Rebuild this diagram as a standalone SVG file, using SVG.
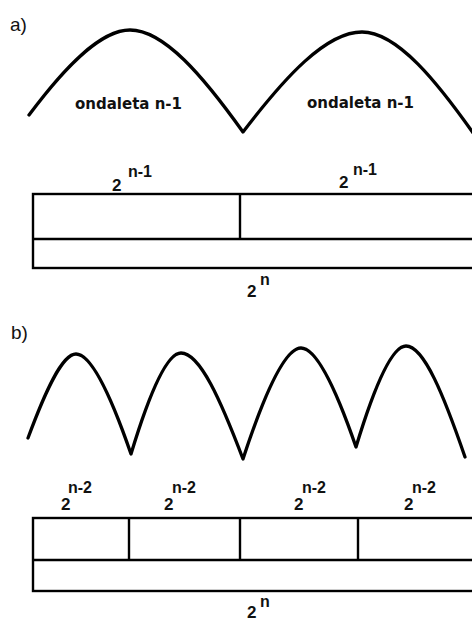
<svg xmlns="http://www.w3.org/2000/svg" width="472" height="621" viewBox="0 0 472 621">
<style>
.wave{fill:none;stroke:#000;stroke-width:3.3;stroke-linejoin:round;stroke-linecap:round}
.box{fill:#fff;stroke:#000;stroke-width:2.4}
.ln{stroke:#000;stroke-width:2.4}
.lbl{font-family:"DejaVu Sans",sans-serif;font-weight:bold;font-size:15px;fill:#111}
.num{font-family:"Liberation Sans",Arial,sans-serif;font-weight:bold;font-size:17px;fill:#111}
.sup{font-family:"Liberation Sans",Arial,sans-serif;font-weight:bold;font-size:16px;fill:#111}
.tag{font-family:"Liberation Sans",Arial,sans-serif;font-size:19px;fill:#111}
</style>
<rect width="472" height="621" fill="#fff"/>
<g id="part-a">
  <text class="tag" x="10" y="31">a)</text>
  <g id="wave-a">
    <path class="wave" d="M29 115 C64 68 100 30 130 30 C164 30 203 76 243 132 C285 77 326 32 362 32 C397 32 437 81 478 140"/>
    <text class="lbl" x="75" y="109">ondaleta n-1</text>
    <text class="lbl" x="307" y="108">ondaleta n-1</text>
  </g>
  <g id="box-a">
    <rect class="box" x="33" y="194" width="460" height="74"/>
    <line class="ln" x1="33" y1="239" x2="493" y2="239"/>
    <line class="ln" x1="240" y1="194" x2="240" y2="239"/>
    <text class="num" x="112" y="191">2</text><text class="sup" x="128" y="177">n-1</text>
    <text class="num" x="339" y="188">2</text><text class="sup" x="353" y="175">n-1</text>
    <text class="num" x="247" y="297">2</text><text class="sup" x="260" y="285">n</text>
  </g>
</g>
<g id="part-b">
  <text class="tag" x="11" y="339">b)</text>
  <g id="wave-b">
    <path class="wave" d="M28 438 C45 392 62 354 76 354 C92 354 112 399 131 454 C148 398 166 353 181 353 C200 353 221 401 243 459 C263 398 284 348 301 348 C317 348 337 392 356 447 C373 391 391 346 406 346 C424 346 444 396 465 457"/>
  </g>
  <g id="box-b">
    <rect class="box" x="33" y="518" width="460" height="73"/>
    <line class="ln" x1="33" y1="560" x2="493" y2="560"/>
    <line class="ln" x1="129" y1="518" x2="129" y2="560"/>
    <line class="ln" x1="240" y1="518" x2="240" y2="560"/>
    <line class="ln" x1="358" y1="518" x2="358" y2="560"/>
    <text class="num" x="61" y="510">2</text><text class="sup" x="68" y="493">n-2</text>
    <text class="num" x="164" y="510">2</text><text class="sup" x="172" y="493">n-2</text>
    <text class="num" x="294" y="510">2</text><text class="sup" x="302" y="493">n-2</text>
    <text class="num" x="404" y="510">2</text><text class="sup" x="412" y="493">n-2</text>
    <text class="num" x="247" y="618">2</text><text class="sup" x="260" y="607">n</text>
  </g>
</g>
</svg>
